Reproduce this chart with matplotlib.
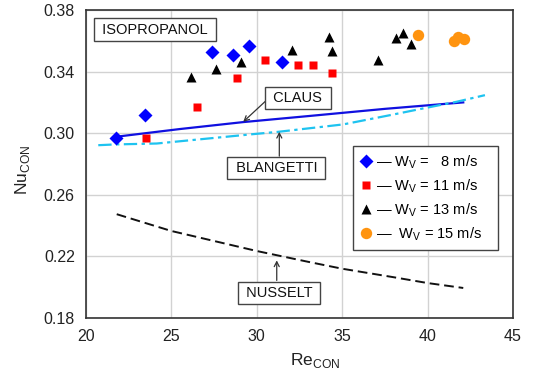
import matplotlib
matplotlib.use("Agg")
import matplotlib.pyplot as plt
from matplotlib.lines import Line2D

plt.rcParams['font.family'] = ['Liberation Sans', 'DejaVu Sans']
plt.rcParams['mathtext.fontset'] = 'custom'
plt.rcParams['mathtext.rm'] = 'Liberation Sans'

# Measured Nusselt numbers by vapour velocity
re_8 = [21.74, 23.47, 27.38, 28.62, 29.54, 31.46]
nu_8 = [0.297, 0.312, 0.3525, 0.3507, 0.3568, 0.346]

re_11 = [23.49, 26.48, 28.82, 30.46, 32.39, 33.27, 34.42]
nu_11 = [0.297, 0.3167, 0.3356, 0.3473, 0.3442, 0.3442, 0.3388]

re_13 = [26.15, 27.59, 29.06, 32.04, 34.23, 34.42, 37.11, 38.15, 38.54, 39.01]
nu_13 = [0.3363, 0.342, 0.3464, 0.354, 0.3622, 0.3535, 0.3475, 0.3616, 0.3649, 0.3579]

re_15 = [39.46, 41.55, 41.80, 42.13]
nu_15 = [0.3637, 0.360, 0.3623, 0.3609]

# Correlations
re_claus = [21.70, 25.5, 29.2, 33.1, 37.5, 42.09]
nu_claus = [0.2976, 0.3027, 0.3072, 0.3112, 0.3158, 0.3200]

re_blang = [20.72, 21.70, 24.14, 29.80, 31.26, 35.06, 37.80, 39.75, 41.70, 43.36]
nu_blang = [0.2922, 0.2927, 0.2933, 0.2994, 0.3009, 0.3057, 0.3117, 0.3161, 0.3204, 0.3247]

re_nuss = [21.8, 25.0, 30.0, 33.0, 35.0, 38.0, 40.0, 42.09]
nu_nuss = [0.2474, 0.2365, 0.2235, 0.2165, 0.2120, 0.2065, 0.2027, 0.1995]

x_ticks = [20, 25, 30, 35, 40, 45]
y_ticks = [0.18, 0.22, 0.26, 0.30, 0.34, 0.38]
y_tick_labels = ['0.18', '0.22', '0.26', '0.30', '0.34', '0.38']

legend_labels = [r'— W$_\mathregular{V}$ =   8 m/s   ',
                 r'— W$_\mathregular{V}$ = 11 m/s   ',
                 r'— W$_\mathregular{V}$ = 13 m/s   ',
                 r'—  W$_\mathregular{V}$ = 15 m/s   ']

fig = plt.figure(figsize=(5.36, 3.77), dpi=100)
ax = fig.add_axes([0.1604, 0.1565, 0.7966, 0.817])

ax.set_xlim(20, 45)
ax.set_ylim(0.18, 0.38)
ax.set_xticks(x_ticks)
ax.set_yticks(y_ticks)
ax.set_yticklabels(y_tick_labels)
ax.tick_params(length=0, labelsize=11.5, pad=8, colors='#222222')
ax.grid(True, color='#d2d2d2', lw=1.0)
ax.set_axisbelow(True)
for sp in ax.spines.values():
    sp.set_color('#333333')
    sp.set_linewidth(1.2)

# correlation curves
ax.plot(re_claus, nu_claus, color='#1010e0', lw=1.6, zorder=3)
ax.plot(re_blang, nu_blang, color='#1ec3f0', lw=1.6, dashes=(6, 2, 1.5, 2), zorder=3)
ax.plot(re_nuss, nu_nuss, color='#111111', lw=1.4, dashes=(5, 2.5), zorder=3)

# measurements
ax.plot(re_8, nu_8, 'D', color='#0000ff', ms=6.8, mec='none', zorder=4)
ax.plot(re_11, nu_11, 's', color='#ff0000', ms=6.3, mec='none', zorder=4)
ax.plot(re_13, nu_13, '^', color='#000000', ms=7.8, mec='none', zorder=4)
ax.plot(re_15, nu_15, 'o', color='#ff9410', ms=8.2, mec='none', zorder=4)

box = dict(boxstyle='square,pad=0.28', fc='white', ec='#444444', lw=1.0)
tkw = dict(fontsize=10.5, ha='center', va='center', bbox=box, zorder=6, color='#111111')
ax.text(24.04, 0.3673, ' ISOPROPANOL ', **tkw)
ax.text(32.41, 0.3228, ' CLAUS ', **tkw)
ax.text(31.15, 0.2773, ' BLANGETTI ', **tkw)
ax.text(31.30, 0.1963, ' NUSSELT ', **tkw)

akw = dict(arrowstyle='->,head_length=0.35,head_width=0.18', color='#333333',
           lw=0.9, shrinkA=0, shrinkB=0)
ax.annotate('', xy=(29.21, 0.3074), xytext=(30.58, 0.3215), arrowprops=akw, zorder=5)
ax.annotate('', xy=(31.32, 0.3009), xytext=(31.32, 0.2851), arrowprops=akw, zorder=5)
ax.annotate('', xy=(31.17, 0.2174), xytext=(31.17, 0.2044), arrowprops=akw, zorder=5)

handles = [
    Line2D([], [], ls='none', marker='D', color='#0000ff', ms=6.8, mec='none'),
    Line2D([], [], ls='none', marker='s', color='#ff0000', ms=6.3, mec='none'),
    Line2D([], [], ls='none', marker='^', color='#000000', ms=7.8, mec='none'),
    Line2D([], [], ls='none', marker='o', color='#ff9410', ms=8.2, mec='none'),
]
leg = ax.legend(handles, legend_labels, loc='upper left',
                bbox_to_anchor=(0.625, 0.558), fontsize=10.5, frameon=True,
                fancybox=False, framealpha=1, edgecolor='#444444',
                handlelength=0.8, handletextpad=0.3, labelspacing=0.42,
                borderpad=0.5, borderaxespad=0)
leg.get_frame().set_linewidth(1.0)
leg.set_zorder(7)

ax.set_xlabel(r'Re$_\mathregular{CON}$', fontsize=12.5, color='#222222')
ax.set_ylabel(r'Nu$_\mathregular{CON}$', fontsize=12.5, color='#222222')
ax.xaxis.set_label_coords(0.536, -0.108)
ax.yaxis.set_label_coords(-0.126, 0.48)

fig.savefig('out.png', dpi=100, facecolor='white')
